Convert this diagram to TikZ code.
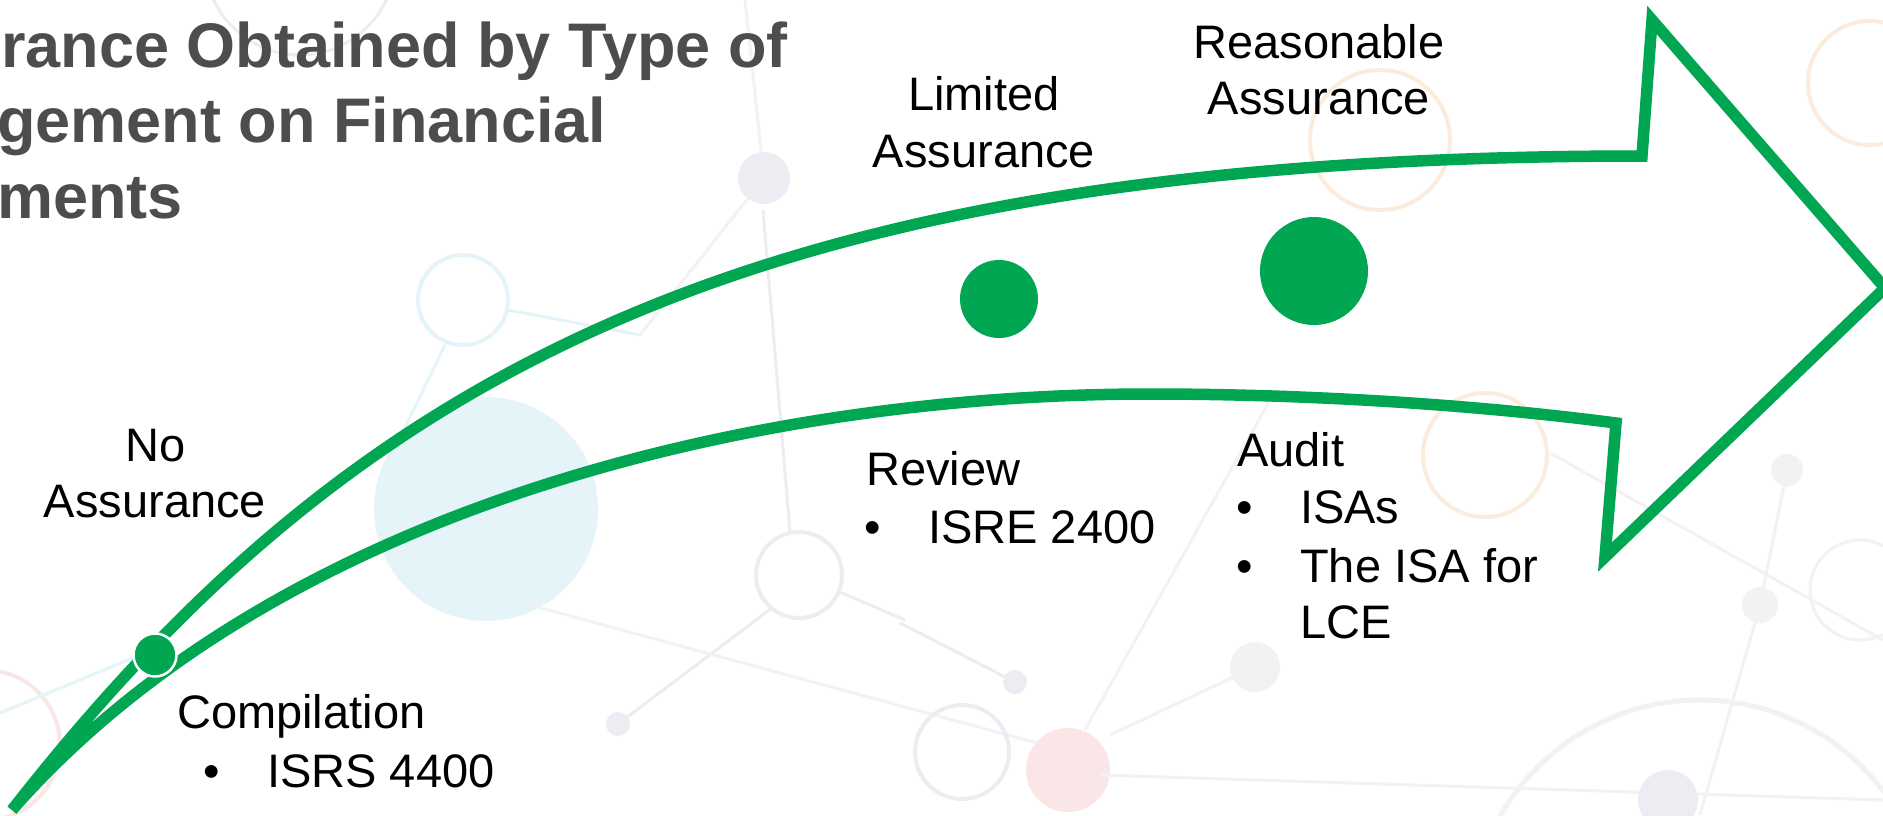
\documentclass[tikz,border=0pt]{standalone}
\usepackage{fontspec}
\setmainfont{Liberation Sans}
\definecolor{agreen}{HTML}{00A651}
\definecolor{titlegray}{HTML}{4D4D4D}
\definecolor{netgray}{HTML}{F2F2F5}
\definecolor{netlav}{HTML}{EDECF3}
\definecolor{netblue}{HTML}{E5F4F8}
\definecolor{netpink}{HTML}{FAE6E6}
\definecolor{netorange}{HTML}{FCECDD}
\tikzset{
  arrowline/.style={draw=agreen, line width=11.5pt, line join=miter, miter limit=12},
  dotmark/.style={circle, fill=agreen, inner sep=0pt},
  lbl/.style={font=\fontsize{47}{57}\selectfont, inner sep=0pt, text=black},
  ttl/.style={font=\fontsize{63}{75}\selectfont\bfseries, inner sep=0pt, text=titlegray},
  bgline/.style={line width=3pt},
}
\begin{document}
\begin{tikzpicture}[x=1pt,y=-1pt]
\useasboundingbox (0,0) rectangle (1883,815);
\clip (0,0) rectangle (1883,815);
\fill[white] (0,0) rectangle (1883,815);

% faint background network
\draw[netlav, bgline] (300,-40) circle[radius=95];
\draw[netgray, bgline] (764,178) -- (745,0);
\draw[netgray, bgline] (764,178) -- (640,335);
\fill[netlav] (764,178) circle[radius=26];
\fill[netblue] (486,509) circle[radius=112];
\draw[netblue, bgline] (508,310) -- (640,335);
\draw[netblue, bgline] (445,345) -- (395,448);
\draw[netblue, line width=4pt] (463,300) circle[radius=45];
\draw[netlav, bgline] (790,532) -- (763,210);
\draw[netlav, bgline] (772,608) -- (618,724);
\draw[netlav, bgline] (840,592) -- (905,620);
\draw[netlav, line width=4pt] (799,575) circle[radius=43];
\fill[netlav] (618,724) circle[radius=12];
\draw[netgray, bgline] (530,605) -- (1100,760);
\draw[netgray, bgline] (1085,730) -- (1270,400);
\draw[netgray, bgline] (1110,735) -- (1255,667);
\fill[netgray] (1255,667) circle[radius=25];
\draw[netlav, bgline] (1015,682) -- (900,623);
\fill[netlav] (1015,682) circle[radius=12];
\draw[netlav, line width=4pt] (962,752) circle[radius=47];
\fill[netpink] (1068,770) circle[radius=42];
\draw[netgray, bgline] (1100,775) -- (1883,800);
\draw[netorange, line width=4pt] (1870,83) circle[radius=62];
\draw[netorange, line width=4pt] (1485,455) circle[radius=62];
\draw[netorange, line width=4pt] (1380,140) circle[radius=70];
\draw[netpink, line width=4pt] (-15,745) circle[radius=75];
\draw[netblue, bgline] (0,713) -- (140,655);
\draw[netgray, bgline] (1550,453) -- (1883,640);
\draw[netgray, bgline] (1787,470) -- (1760,605);
\draw[netgray, bgline] (1760,605) -- (1700,815);
\fill[netgray] (1787,470) circle[radius=16];
\fill[netgray] (1760,605) circle[radius=18];
\draw[netgray, bgline] (1860,590) circle[radius=50];
\draw[netgray, line width=5pt] (1700,930) circle[radius=230];
\fill[netlav] (1668,800) circle[radius=30];

% title
\node[ttl, anchor=base west] (t1) at (-153,67) {Assurance Obtained by Type of};
\node[ttl, anchor=base west] (t2) at (-157,142.5) {Engagement on Financial};
\node[ttl, anchor=base west] (t3) at (-157,218) {Statements};

% arrow
\draw[arrowline] (12,810) .. controls (360,365) and (760,156) .. (1642,156)
  -- (1652,20) -- (1885,288) -- (1605,557) -- (1616,423)
  .. controls (1466,403.5) and (1300,394) .. (1150,394)
  .. controls (750,394) and (276,510) .. (12,810) -- cycle;

% dots
\node[dotmark, draw=white, line width=2.5pt, minimum size=43pt] (dno) at (155,655) {};
\node[dotmark, minimum size=78pt] (dlim) at (999,299) {};
\node[dotmark, minimum size=108pt] (drea) at (1314,271) {};

% labels
\node[lbl, anchor=base] (no1) at (156,461) {No};
\node[lbl, anchor=base] (no2) at (155,517) {Assurance};
\node[lbl, anchor=base] (lim1) at (984,110) {Limited};
\node[lbl, anchor=base] (lim2) at (984,167) {Assurance};
\node[lbl, anchor=base] (rea1) at (1319,58) {Reasonable};
\node[lbl, anchor=base] (rea2) at (1319,114) {Assurance};

\node[lbl, anchor=base west] (comp) at (177,728) {Compilation};
\node[lbl, anchor=base] (bcomp) at (212,787) {•};
\node[lbl, anchor=base west] (isrs) at (267,787) {ISRS 4400};

\node[lbl, anchor=base west] (rev) at (866,485) {Review};
\node[lbl, anchor=base] (brev) at (873,543) {•};
\node[lbl, anchor=base west] (isre) at (928,543) {ISRE 2400};

\node[lbl, anchor=base west] (aud) at (1237,466) {Audit};
\node[lbl, anchor=base] (baud1) at (1245,523) {•};
\node[lbl, anchor=base west] (isas) at (1300,523) {ISAs};
\node[lbl, anchor=base] (baud2) at (1245,582) {•};
\node[lbl, anchor=base west] (isalce) at (1300,582) {The ISA for};
\node[lbl, anchor=base west] (lce) at (1300,638) {LCE};
\end{tikzpicture}
\end{document}
